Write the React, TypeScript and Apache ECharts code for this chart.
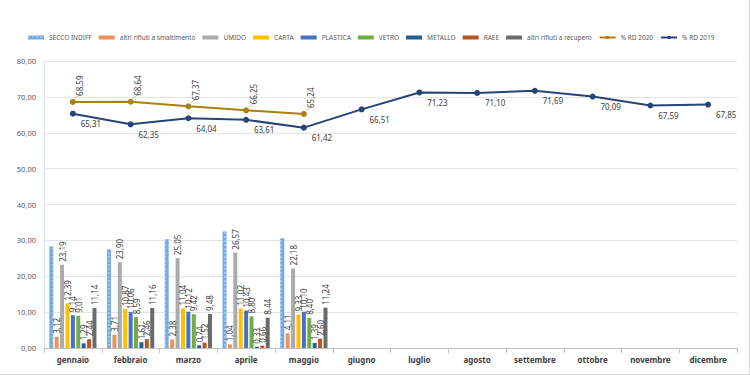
import React, { useEffect, useRef } from "react";
import * as echarts from "echarts";

const months = ["gennaio","febbraio","marzo","aprile","maggio","giugno","luglio","agosto","settembre","ottobre","novembre","dicembre"];
const secco = [28.3, 27.5, 30.3, 32.5, 30.6];
const altriSmalt = [3.12, 3.71, 2.38, 1.04, 4.11];
const umido = [23.19, 23.9, 25.05, 26.57, 22.18];
const carta = [12.39, 10.87, 11.04, 11.02, 9.33];
const plastica = [9.14, 10.06, 10.12, 10.43, 10.1];
const vetro = [9.01, 8.59, 9.42, 8.8, 8.4];
const metallo = [1.29, 1.61, 0.74, 0.33, 1.39];
const raee = [2.44, 2.46, 1.52, 0.66, 2.6];
const altriRec = [11.14, 11.16, 9.48, 8.44, 11.24];
const rd2020 = [68.59, 68.64, 67.37, 66.25, 65.24];
const rd2019 = [65.31, 62.35, 64.04, 63.61, 61.42, 66.51, 71.23, 71.1, 71.69, 70.09, 67.59, 67.85];

const fmt = (v: number) => v.toFixed(2).replace(".", ",");
const FONT = "Noto Sans";

export default function App() {
  const ref = useRef<HTMLDivElement>(null);
  useEffect(() => {
    if (!ref.current) return;
    const chart = echarts.init(ref.current, undefined, { renderer: "svg" });
    const barDefs: [string, number[], string, boolean][] = [
      ["SECCO INDIFF", secco, "#74ABE2", false],
      ["altri rifiuti a smaltimento", altriSmalt, "#F0905A", true],
      ["UMIDO", umido, "#ABABAB", true],
      ["CARTA", carta, "#FFC000", true],
      ["PLASTICA", plastica, "#4472C4", true],
      ["VETRO", vetro, "#70AD47", true],
      ["METALLO", metallo, "#255E91", true],
      ["RAEE", raee, "#B8561E", true],
      ["altri rifiuti a recupero", altriRec, "#6B6B6B", true],
    ];
    const rotLabel = {
      position: "top",
      rotate: 90,
      align: "left",
      verticalAlign: "middle",
      fontSize: 8,
      fontFamily: FONT,
      color: "#404040",
      formatter: (p: any) => fmt(p.value),
    };
    const bars = barDefs.map(([name, data, color, lab], i) => ({
      name,
      type: "bar",
      data,
      barWidth: 4,
      barGap: "35%",
      itemStyle:
        i === 0
          ? {
              color,
              decal: {
                symbol: "rect",
                symbolSize: 1,
                color: "rgba(255,255,255,0.3)",
                dashArrayX: [2, 2],
                dashArrayY: [2, 2],
              },
            }
          : { color },
      label: { ...rotLabel, show: lab, distance: 3 },
    }));
    chart.setOption({
      animation: false,
      backgroundColor: "#fff",
      textStyle: { fontFamily: FONT },
      legend: {
        top: 34,
        left: 28,
        width: 722,
        padding: 0,
        itemWidth: 16,
        itemHeight: 4,
        itemGap: 7,
        textStyle: { fontSize: 6.5, color: "#595959", fontFamily: FONT },
        data: [
          ...barDefs.map((b) => ({ name: b[0], icon: "rect" })),
          { name: "% RD 2020" },
          { name: "% RD 2019" },
        ],
      },
      grid: { left: 44, right: 12, top: 61, bottom: 26, containLabel: false },
      xAxis: {
        type: "category",
        data: months,
        axisLine: { lineStyle: { color: "#BFBFBF" } },
        axisTick: { show: true, lineStyle: { color: "#BFBFBF" } },
        axisLabel: { fontSize: 8, fontWeight: "bold", color: "#404040", fontFamily: FONT, margin: 7 },
      },
      yAxis: {
        type: "value",
        min: 0,
        max: 80,
        interval: 10,
        axisLine: { show: true, lineStyle: { color: "#D9E3F0" } },
        splitLine: { lineStyle: { color: "#E4E4E4" } },
        axisLabel: { fontSize: 7.5, color: "#595959", fontFamily: FONT, formatter: (v: number) => fmt(v) },
      },
      series: [
        ...bars,
        {
          name: "% RD 2020",
          type: "line",
          data: rd2020,
          symbol: "circle",
          symbolSize: 6,
          itemStyle: { color: "#A8820C" },
          lineStyle: { color: "#A8820C", width: 2 },
          z: 4,
        },
        {
          name: "% RD 2019",
          type: "line",
          data: rd2019,
          symbol: "circle",
          symbolSize: 6,
          itemStyle: { color: "#264478" },
          lineStyle: { color: "#264478", width: 2 },
          z: 4,
          label: {
            show: true,
            position: "bottom",
            offset: [18, -2],
            fontSize: 8,
            color: "#404040",
            fontFamily: FONT,
            formatter: (p: any) => fmt(p.value),
          },
        },
      ],
    });

    // Rotated labels for % RD 2020, positioned through the chart's own scales
    const elements: any[] = [];
    rd2020.forEach((v, i) => {
      const pt = chart.convertToPixel({ xAxisIndex: 0, yAxisIndex: 0 }, [i, v]) as number[];
      if (!pt) return;
      const [px, py] = pt;
      elements.push({
        type: "line",
        silent: true,
        shape: { x1: px + 2, y1: py - 3, x2: px + 7, y2: py - 7 },
        style: { stroke: "#C8C8C8", lineWidth: 1 },
        z: 5,
      });
      elements.push({
        type: "text",
        silent: true,
        x: px + 7,
        y: py - 6,
        rotation: Math.PI / 2,
        style: {
          text: fmt(v),
          fontSize: 8,
          fontFamily: FONT,
          fill: "#404040",
          align: "left",
          verticalAlign: "middle",
        },
        z: 5,
      });
    });
    chart.setOption({ graphic: { elements } });

    return () => chart.dispose();
  }, []);
  return (
    <div
      ref={ref}
      style={{ position: "fixed", left: 0, top: 0, width: 750, height: 375, boxSizing: "border-box", borderRight: "1px solid #D9D9D9", borderBottom: "1px solid #D9D9D9" }}
    />
  );
}
